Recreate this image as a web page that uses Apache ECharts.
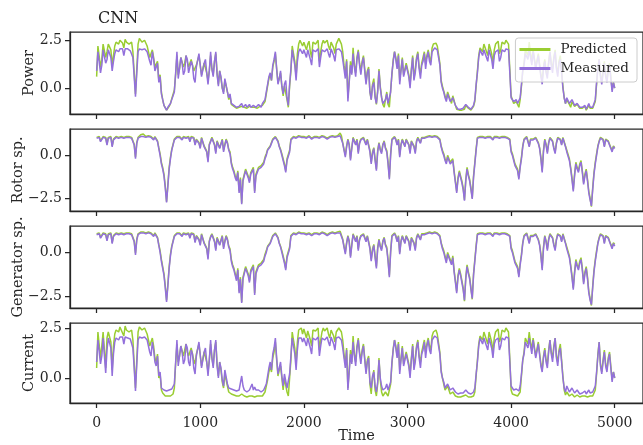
<!DOCTYPE html>
<html><head><meta charset="utf-8">
<script src="https://cdn.jsdelivr.net/npm/echarts@6/dist/echarts.min.js"></script>
<style>html,body{margin:0;padding:0;background:#fff}#c{width:643px;height:445px}</style>
</head><body><div id="c"></div>
<script>
const TIME_STEP = 12.5;
const X_TICKS = [0, 1000, 2000, 3000, 4000, 5000];
const LEGEND = ['Predicted', 'Measured'];
const TITLE = 'CNN';
const X_NAME = 'Time';
const PANEL_NAMES = ['Power', 'Rotor sp.', 'Generator sp.', 'Current'];
const Y_TICKS = [[0, 2.5], [-2.5, 0], [-2.5, 0], [0, 2.5]];

const powerMeasured = [
0.9,1.9,2.0,0.8,1.2,2.0,2.0,1.3, 1.5,2.0,2.0,1.6,0.9,1.4,1.8,2.0, 2.0,1.9,2.05,2.0,2.05,1.7,2.05,2.0, 2.05,2.0,1.95,2.05,1.6,0.6,-0.45,0.8,
1.9,2.05,2.05,2.0,2.0,2.05,2.05,1.9, 1.9,1.4,1.2,1.9,1.5,0.9,0.8,1.3, 0.3,0.6,-0.3,-0.6,-0.9,-1.0,-1.15,-1.0, -0.9,-0.8,-0.6,-0.5,-0.2,0.8,1.9,0.5,
0.6,1.6,1.3,0.7,0.9,1.7,1.5,0.8, 0.7,1.4,1.2,0.5,0.3,1.1,1.0,1.8, 1.9,0.6,0.5,1.3,1.5,0.8,0.2,0.9, 1.9,1.0,0.6,1.4,1.9,0.7,0.1,0.9,
0.6,0.0,-0.3,0.5,0.4,-0.2,-0.5,-0.3, -0.8,-0.7,-0.9,-1.0,-1.0,-0.9,-0.95,-1.0, -0.8,-1.0,-0.95,-0.85,-1.0,-0.95,-0.85,-1.0, -1.0,-0.9,-0.9,-1.0,-1.0,-0.85,-0.9,-1.0,
-0.8,-0.7,-0.6,-0.2,0.2,0.6,0.8,0.4, 1.2,1.5,1.9,1.0,0.2,0.5,0.9,0.1, -0.3,0.2,0.4,-0.5,-0.9,0.2,1.0,2.0, 2.0,1.2,0.4,1.4,1.9,2.05,2.0,1.8,
2.0,2.05,1.6,2.0,2.0,1.5,1.2,2.0, 2.0,1.9,1.8,2.05,1.1,1.6,2.0,2.05, 1.9,2.0,2.05,1.8,1.6,2.05,2.0,1.7, 1.4,2.0,2.0,2.05,2.05,1.9,1.5,1.0,
0.5,1.4,-0.7,0.3,1.2,0.7,1.8,1.1, 0.6,1.5,1.9,1.2,0.7,1.3,1.6,0.9, 0.2,0.8,1.0,-0.2,-0.6,0.1,0.3,-0.5, -0.8,-0.2,0.9,0.0,-0.5,-0.8,-0.9,-0.6,
-0.3,-0.8,-0.9,-0.2,0.8,1.4,1.9,1.5, 1.0,1.7,0.2,0.9,1.5,0.6,0.5,1.2, 1.3,0.6,0.0,0.9,1.6,0.4,0.8,1.5, 1.8,1.0,0.5,1.2,1.4,1.8,1.0,1.6,
1.9,1.4,1.2,1.9,2.0,2.1,2.05,2.0, 1.9,1.2,0.3,0.0,-0.2,-0.5,-0.7,-0.3, -0.4,-0.7,-0.8,-0.5,-0.6,-0.9,-1.0,-1.1, -1.1,-1.1,-1.1,-1.05,-1.05,-0.85,-0.8,-1.0,
-1.1,-1.1,-1.1,-0.9,-0.6,0.2,0.8,1.6, 2.0,1.9,1.7,2.0,2.0,1.6,1.4,2.0, 2.0,1.5,1.0,1.7,1.9,2.0,2.0,1.4, 1.6,2.0,2.0,1.9,2.05,2.0,2.0,0.8,
-0.5,-0.4,-0.7,-0.6,-0.6,-0.8,-0.9,-0.5, 0.2,0.9,1.2,1.8,1.9,1.5,2.0,1.6, 1.2,1.9,1.8,1.0,0.9,1.7,1.6,0.6, 0.2,1.0,1.4,0.8,0.5,1.3,1.9,1.2,
0.8,1.5,1.9,1.0,0.6,1.3,1.5,0.8, 0.0,-0.5,-0.8,-0.5,-0.4,-0.8,-0.9,-0.6, -0.6,-0.9,-1.0,-0.8,-0.7,-1.0,-1.1,-1.0, -1.05,-0.9,-1.1,-1.05,-0.8,-1.0,-1.1,-1.0,
-1.0,-0.6,0.3,1.0,1.5,0.6,0.2,0.8, 1.3,0.6,0.3,0.9,1.2,0.5,-0.2,0.3, 0.0];
const powerPredicted = [
0.6,2.2,2.3,1.1,1.5,2.3,2.2,1.6, 1.9,2.3,2.3,2.0,1.2,1.7,2.2,2.4, 2.4,2.3,2.5,2.4,2.35,2.1,2.55,2.4, 2.4,2.3,2.3,2.4,1.9,0.8,-0.3,1.0,
2.3,2.6,2.6,2.4,2.45,2.5,2.4,2.2, 2.1,1.6,1.5,2.0,1.6,1.1,1.0,1.4, 0.4,0.7,-0.2,-0.6,-0.9,-1.0,-1.15,-1.05, -0.95,-0.8,-0.55,-0.45,-0.1,0.7,1.7,0.7,
1.0,1.6,1.5,1.1,1.3,1.7,1.4,1.1, 1.1,1.5,1.5,0.9,0.8,1.2,1.2,1.7, 1.8,0.7,0.6,1.3,1.4,0.8,0.4,0.9, 1.7,1.0,0.7,1.4,1.8,0.8,0.2,0.9,
0.5,0.0,-0.2,0.4,0.3,-0.2,-0.6,-0.4, -0.85,-0.8,-0.95,-1.05,-1.05,-1.0,-1.0,-1.05, -0.95,-1.05,-1.0,-0.95,-1.05,-1.0,-0.95,-1.05, -1.0,-0.95,-1.0,-1.05,-1.05,-0.95,-0.95,-1.05,
-0.9,-0.8,-0.7,-0.3,0.1,0.5,0.7,0.4, 1.1,1.4,1.8,1.0,0.3,0.5,0.8,0.1, -0.4,0.1,0.2,-0.6,-1.0,0.1,0.9,2.2, 2.2,1.4,0.6,1.8,2.3,2.5,2.5,2.2,
2.4,2.5,2.0,2.3,2.45,1.9,1.6,2.4, 2.4,2.3,2.2,2.5,1.4,1.9,2.3,2.5, 2.35,2.4,2.5,2.2,2.0,2.4,2.3,2.1, 1.8,2.3,2.4,2.6,2.7,2.3,1.9,1.2,
0.7,1.5,-0.5,0.4,1.4,0.8,2.1,1.2, 0.8,1.6,2.0,1.3,0.9,1.4,1.7,1.0, 0.3,0.9,1.1,-0.2,-0.6,0.2,0.5,-0.4, -0.85,-0.1,1.0,0.1,-0.45,-0.85,-1.0,-0.6,
-0.2,-0.85,-1.0,-0.1,0.7,1.5,1.9,1.6, 1.1,1.8,0.4,1.0,1.6,0.7,0.7,1.3, 1.4,0.7,0.2,1.0,1.7,0.5,1.0,1.6, 1.9,1.1,0.8,1.3,1.6,1.9,1.3,1.7,
2.0,1.6,1.4,2.1,2.3,2.35,2.35,2.2, 2.1,1.3,0.4,0.1,0.0,-0.4,-0.6,-0.2, -0.3,-0.6,-0.8,-0.4,-0.5,-0.9,-1.1,-1.15, -1.15,-1.15,-1.15,-1.1,-1.1,-0.9,-0.85,-1.05,
-1.15,-1.15,-1.15,-0.95,-0.7,0.1,0.9,1.7, 2.1,2.1,1.9,2.3,2.3,1.9,1.7,2.3, 2.35,1.8,1.3,2.0,2.3,2.4,2.45,1.8, 2.0,2.4,2.4,2.3,2.5,2.4,2.3,1.0,
-0.4,-0.3,-0.8,-0.7,-0.7,-0.85,-1.0,-0.6, 0.1,0.9,1.3,2.0,2.1,1.7,2.4,1.8, 1.4,2.0,2.0,1.1,1.1,1.8,1.7,0.7, 0.4,1.1,1.5,0.9,0.7,1.4,1.9,1.3,
1.0,1.6,2.0,1.1,0.8,1.4,1.7,0.9, 0.1,-0.5,-0.8,-0.6,-0.5,-0.85,-1.0,-0.7, -0.7,-0.95,-1.05,-0.85,-0.8,-1.05,-1.15,-1.05, -1.1,-0.95,-1.15,-1.1,-0.9,-1.05,-1.15,-1.05,
-1.1,-0.7,0.2,1.1,1.5,0.7,0.3,0.9, 1.4,0.7,0.4,1.0,1.3,0.6,-0.1,0.3, 0.0];

const rotorMeasured = [
1.0,1.05,1.05,0.8,0.7,1.05,1.05,1.0, 0.6,1.0,1.05,1.05,0.5,0.9,1.0,1.05, 1.05,1.0,1.05,1.05,1.05,1.0,1.0,1.05, 1.05,1.05,1.05,1.0,0.9,0.6,-0.2,0.7,
1.0,1.1,1.1,1.05,1.1,1.1,1.05,1.1, 1.1,1.05,1.05,1.1,0.9,1.05,1.0,0.8, 0.4,0.0,-0.5,-0.8,-1.2,-1.9,-2.75,-1.8, -0.8,-0.2,0.3,0.6,0.9,1.0,1.05,1.05,
1.05,1.0,0.9,1.05,1.05,1.0,1.0,1.05, 0.8,1.05,1.05,1.0,0.6,0.9,1.0,0.7, 0.4,1.0,0.9,0.5,0.6,0.2,-0.4,0.6, 0.8,1.0,1.0,0.6,0.1,0.8,0.9,0.4,
0.5,0.9,0.2,0.6,0.9,0.7,0.3,0.1, -0.5,-0.8,-1.0,-1.3,-1.5,-1.0,-2.2,-1.4, -2.85,-1.5,-1.2,-0.9,-1.0,-1.3,-1.6,-1.1, -1.0,-0.8,-2.2,-1.2,-1.0,-0.8,-0.9,-0.7,
-0.6,-0.5,-0.2,0.0,0.3,0.4,0.5,0.7, 0.9,1.0,1.05,1.0,0.8,0.5,0.3,0.0, -0.3,-0.6,-1.0,-0.3,-0.4,0.2,0.9,1.0, 1.05,1.05,1.0,1.05,1.1,1.05,1.05,1.1,
1.05,1.05,1.0,1.05,1.1,1.05,0.95,1.05, 1.05,1.0,1.05,1.05,1.0,1.05,1.1,1.05, 1.05,1.05,0.95,1.05,1.05,1.0,1.1,1.05, 1.05,1.1,1.1,1.05,1.15,1.1,0.7,0.3,
-0.1,0.5,0.9,0.6,-0.3,0.4,1.0,0.8, 0.6,0.9,0.1,0.7,0.9,1.0,1.0,0.8, 0.6,0.9,0.9,0.2,-0.5,0.1,0.4,-0.3, -0.9,0.2,0.7,0.3,0.1,0.6,0.8,0.4,
0.2,-0.5,-1.4,0.0,0.9,1.0,1.05,0.9, 0.6,0.9,-0.1,0.6,0.9,0.7,0.5,0.9, 1.0,0.6,0.1,0.8,0.9,0.5,0.1,0.8, 1.0,0.9,0.7,1.0,1.05,1.0,0.9,1.05,
1.05,1.1,1.1,1.05,1.05,1.1,1.1,1.05, 1.05,0.9,0.5,0.2,0.0,-0.3,-0.5,-0.1, -0.2,-0.5,-0.6,-0.3,-1.0,-1.6,-2.2,-1.4, -1.0,-1.3,-1.6,-2.0,-2.65,-1.5,-0.8,-1.2,
-1.5,-2.0,-2.55,-1.3,-0.5,0.3,1.0,1.05, 1.05,1.05,1.05,1.0,1.0,1.05,1.05,1.05, 1.05,1.0,0.9,1.05,1.05,1.05,1.05,1.0, 1.0,1.05,1.05,1.05,1.05,1.0,1.0,0.9,
0.2,0.0,-0.3,-0.6,-0.5,-0.9,-1.4,-0.7, -0.2,0.5,0.9,1.0,1.05,0.8,0.5,0.9, 1.0,0.9,0.8,1.0,1.0,0.7,0.4,-0.2, -1.0,0.2,0.9,0.6,0.1,0.7,1.0,0.9,
0.8,0.4,0.1,0.7,1.0,1.0,0.9,0.6, 1.0,0.9,0.5,0.2,0.1,-0.3,-0.8,-1.4, -2.1,-1.2,-0.5,-0.8,-1.0,-0.6,-0.4,-1.0, -1.7,-1.2,-0.9,-1.5,-2.2,-2.6,-2.95,-2.0,
-1.1,-0.5,0.0,0.5,0.8,1.0,1.05,0.9, 0.5,0.9,1.0,0.8,0.7,0.4,0.2,0.5, 0.4];
const rotorPredicted = [
1.05,1.1,1.1,0.85,0.75,1.1,1.1,1.05, 0.65,1.05,1.1,1.1,0.55,0.95,1.05,1.1, 1.1,1.05,1.1,1.1,1.1,1.05,1.05,1.1, 1.1,1.1,1.1,1.05,0.95,0.65,-0.1,0.75,
1.05,1.15,1.2,1.15,1.25,1.15,1.1,1.15, 1.15,1.1,1.1,1.15,0.95,1.1,1.05,0.85, 0.45,0.1,-0.4,-0.7,-1.1,-1.8,-2.7,-1.7, -0.7,-0.1,0.35,0.65,0.95,1.05,1.1,1.1,
1.1,1.05,0.95,1.1,1.1,1.05,1.05,1.1, 0.85,1.1,1.1,1.05,0.65,0.95,1.05,0.75, 0.45,1.05,0.95,0.55,0.65,0.25,-0.3,0.65, 0.85,1.05,1.05,0.65,0.2,0.85,0.95,0.45,
0.55,0.95,0.3,0.65,0.95,0.75,0.35,0.2, -0.4,-0.7,-0.9,-1.2,-1.4,-0.9,-2.1,-1.3, -2.8,-1.4,-1.1,-0.8,-0.9,-1.2,-1.5,-1.0, -0.9,-0.7,-2.1,-1.1,-0.9,-0.7,-0.8,-0.6,
-0.5,-0.4,-0.1,0.1,0.35,0.45,0.55,0.75, 0.95,1.05,1.1,1.05,0.85,0.55,0.35,0.1, -0.2,-0.5,-0.9,-0.2,-0.3,0.3,0.95,1.05, 1.1,1.1,1.05,1.1,1.15,1.1,1.1,1.15,
1.1,1.1,1.05,1.1,1.15,1.1,1.0,1.1, 1.1,1.05,1.1,1.1,1.05,1.1,1.15,1.1, 1.1,1.1,1.0,1.1,1.1,1.05,1.15,1.1, 1.1,1.15,1.15,1.1,1.3,1.15,0.75,0.35,
0.0,0.55,0.95,0.65,-0.2,0.45,1.05,0.85, 0.65,0.95,0.2,0.75,0.95,1.05,1.05,0.85, 0.65,0.95,0.95,0.3,-0.4,0.2,0.45,-0.2, -0.8,0.3,0.75,0.35,0.2,0.65,0.85,0.45,
0.3,-0.4,-1.3,0.1,0.95,1.05,1.1,0.95, 0.65,0.95,0.0,0.65,0.95,0.75,0.55,0.95, 1.05,0.65,0.2,0.85,0.95,0.55,0.2,0.85, 1.05,0.95,0.75,1.05,1.1,1.05,0.95,1.1,
1.1,1.15,1.15,1.1,1.1,1.15,1.15,1.1, 1.1,0.95,0.55,0.3,0.1,-0.2,-0.4,0.0, -0.1,-0.4,-0.5,-0.2,-0.9,-1.5,-2.1,-1.3, -0.9,-1.2,-1.5,-1.9,-2.6,-1.4,-0.7,-1.1,
-1.4,-1.9,-2.5,-1.2,-0.4,0.4,1.05,1.1, 1.1,1.1,1.1,1.05,1.05,1.1,1.1,1.1, 1.1,1.05,0.95,1.1,1.1,1.1,1.1,1.05, 1.05,1.1,1.1,1.1,1.1,1.05,1.05,0.95,
0.3,0.1,-0.2,-0.5,-0.4,-0.8,-1.3,-0.6, -0.1,0.55,0.95,1.05,1.1,0.85,0.55,0.95, 1.05,0.95,0.85,1.05,1.05,0.75,0.45,-0.1, -0.9,0.3,0.95,0.65,0.2,0.75,1.05,0.95,
0.85,0.45,0.2,0.75,1.05,1.05,0.95,0.65, 1.05,0.95,0.55,0.3,0.2,-0.2,-0.7,-1.3, -2.0,-1.1,-0.4,-0.7,-0.9,-0.5,-0.3,-0.9, -1.6,-1.1,-0.8,-1.4,-2.1,-2.5,-3.0,-1.9,
-1.0,-0.4,0.1,0.55,0.85,1.05,1.1,0.95, 0.55,0.95,1.05,0.85,0.75,0.45,0.3,0.55, 0.45];

const generatorMeasured = [
1.0,1.05,1.05,0.8,0.75,1.05,1.05,1.0, 0.65,1.0,1.05,1.05,0.5,0.9,1.0,1.05, 1.05,1.0,1.05,1.05,1.05,1.0,1.0,1.05, 1.05,1.05,1.05,1.0,0.9,0.6,-0.15,0.7,
1.0,1.1,1.1,1.05,1.1,1.1,1.05,1.1, 1.1,1.05,1.05,1.1,0.9,1.05,1.0,0.8, 0.4,0.0,-0.5,-0.9,-1.3,-2.0,-2.8,-1.9, -0.9,-0.2,0.3,0.6,0.9,1.0,1.05,1.05,
1.05,1.0,0.9,1.05,1.05,1.0,1.0,1.05, 0.8,1.05,1.05,1.0,0.55,0.9,1.0,0.7, 0.4,1.0,0.9,0.5,0.6,0.2,-0.4,0.6, 0.85,1.0,1.0,0.6,0.1,0.8,0.9,0.4,
0.5,0.9,0.2,0.6,0.9,0.7,0.3,0.1, -0.5,-0.8,-1.0,-1.3,-1.6,-1.0,-2.3,-1.5, -2.85,-1.5,-1.2,-0.9,-1.0,-1.3,-1.7,-1.1, -1.0,-0.8,-2.4,-1.2,-1.0,-0.8,-0.9,-0.7,
-0.6,-0.5,-0.2,0.0,0.3,0.4,0.5,0.7, 0.9,1.0,1.05,1.0,0.8,0.5,0.3,0.0, -0.3,-0.6,-1.0,-0.3,-0.4,0.2,0.9,1.0, 1.05,1.05,1.0,1.05,1.1,1.05,1.05,1.1,
1.05,1.05,1.0,1.05,1.05,1.05,0.95,1.05, 1.05,1.0,1.05,1.05,1.0,1.05,1.1,1.05, 1.05,1.05,0.95,1.05,1.05,1.0,1.1,1.05, 1.05,1.1,1.1,1.05,1.1,1.1,0.7,0.3,
-0.1,0.5,0.9,0.6,-0.3,0.4,1.0,0.8, 0.6,0.9,0.1,0.7,0.9,1.0,1.0,0.8, 0.6,0.9,0.9,0.2,-0.5,0.1,0.4,-0.3, -0.9,0.2,0.7,0.3,0.1,0.6,0.8,0.4,
0.2,-0.5,-1.4,0.0,0.9,1.0,1.05,0.9, 0.6,0.9,-0.1,0.6,0.9,0.7,0.5,0.9, 1.0,0.6,0.1,0.8,0.9,0.5,0.1,0.8, 1.0,0.9,0.7,1.0,1.05,1.0,0.9,1.05,
1.05,1.1,1.1,1.05,1.05,1.1,1.1,1.05, 1.05,0.9,0.5,0.2,0.0,-0.3,-0.6,-0.1, -0.2,-0.5,-0.7,-0.3,-1.1,-1.7,-2.3,-1.4, -1.0,-1.3,-1.7,-2.1,-2.7,-1.5,-0.8,-1.2,
-1.5,-2.1,-2.6,-1.3,-0.5,0.3,1.0,1.05, 1.05,1.05,1.05,1.0,1.0,1.05,1.05,1.05, 1.05,1.0,0.9,1.05,1.05,1.05,1.05,1.0, 1.0,1.05,1.05,1.05,1.05,1.0,1.0,0.9,
0.2,0.0,-0.3,-0.6,-0.5,-0.9,-1.4,-0.7, -0.2,0.5,0.9,1.0,1.05,0.8,0.5,0.9, 1.0,0.9,0.8,1.0,1.0,0.7,0.4,-0.2, -1.0,0.2,0.9,0.6,0.1,0.7,1.0,0.9,
0.8,0.4,0.1,0.7,1.0,1.0,0.9,0.6, 1.0,0.9,0.5,0.2,0.1,-0.3,-0.8,-1.4, -2.1,-1.2,-0.5,-0.8,-1.0,-0.6,-0.4,-1.0, -1.8,-1.2,-0.9,-1.5,-2.3,-2.7,-2.95,-2.0,
-1.1,-0.5,0.0,0.5,0.8,1.0,1.05,0.9, 0.5,0.9,1.0,0.8,0.7,0.4,0.2,0.5, 0.35];
const generatorPredicted = [
1.05,1.1,1.1,0.85,0.8,1.1,1.1,1.05, 0.7,1.05,1.1,1.1,0.55,0.95,1.05,1.1, 1.12,1.05,1.1,1.1,1.1,1.05,1.05,1.1, 1.12,1.1,1.1,1.05,0.95,0.65,-0.05,0.75,
1.05,1.15,1.15,1.1,1.15,1.15,1.1,1.15, 1.15,1.1,1.1,1.15,0.95,1.1,1.05,0.85, 0.45,0.1,-0.4,-0.8,-1.2,-1.9,-2.7,-1.8, -0.8,-0.1,0.35,0.65,0.95,1.05,1.1,1.1,
1.1,1.05,0.95,1.1,1.1,1.05,1.05,1.1, 0.85,1.1,1.1,1.05,0.6,0.95,1.05,0.75, 0.45,1.05,0.95,0.55,0.65,0.25,-0.3,0.65, 0.9,1.05,1.05,0.65,0.2,0.85,0.95,0.45,
0.55,0.95,0.3,0.65,0.95,0.75,0.35,0.2, -0.4,-0.7,-0.9,-1.2,-1.5,-0.9,-2.2,-1.4, -2.8,-1.4,-1.1,-0.8,-0.9,-1.2,-1.6,-1.0, -0.9,-0.7,-2.3,-1.1,-0.9,-0.7,-0.8,-0.6,
-0.5,-0.4,-0.1,0.1,0.35,0.45,0.55,0.75, 0.95,1.05,1.1,1.05,0.85,0.55,0.35,0.1, -0.2,-0.5,-0.9,-0.2,-0.3,0.3,0.95,1.05, 1.1,1.1,1.05,1.1,1.15,1.1,1.1,1.15,
1.1,1.1,1.05,1.1,1.1,1.1,1.0,1.1, 1.1,1.05,1.1,1.1,1.05,1.1,1.15,1.1, 1.1,1.1,1.0,1.1,1.1,1.05,1.15,1.1, 1.1,1.15,1.15,1.1,1.2,1.15,0.75,0.35,
0.0,0.55,0.95,0.65,-0.2,0.45,1.05,0.85, 0.65,0.95,0.2,0.75,0.95,1.05,1.05,0.85, 0.65,0.95,0.95,0.3,-0.4,0.2,0.45,-0.2, -0.8,0.3,0.75,0.35,0.2,0.65,0.85,0.45,
0.3,-0.4,-1.3,0.1,0.95,1.05,1.1,0.95, 0.65,0.95,0.0,0.65,0.95,0.75,0.55,0.95, 1.05,0.65,0.2,0.85,0.95,0.55,0.2,0.85, 1.05,0.95,0.75,1.05,1.1,1.05,0.95,1.1,
1.1,1.15,1.15,1.1,1.1,1.15,1.15,1.1, 1.1,0.95,0.55,0.3,0.1,-0.2,-0.5,0.0, -0.1,-0.4,-0.6,-0.2,-1.0,-1.6,-2.2,-1.3, -0.9,-1.2,-1.6,-2.0,-2.75,-1.4,-0.7,-1.1,
-1.4,-2.0,-2.65,-1.2,-0.4,0.4,1.05,1.1, 1.1,1.1,1.1,1.05,1.05,1.1,1.1,1.1, 1.1,1.05,0.95,1.1,1.1,1.1,1.1,1.05, 1.05,1.1,1.1,1.1,1.1,1.05,1.05,0.95,
0.3,0.1,-0.2,-0.5,-0.4,-0.8,-1.3,-0.6, -0.1,0.55,0.95,1.05,1.1,0.85,0.55,0.95, 1.05,0.95,0.85,1.05,1.05,0.75,0.45,-0.1, -0.9,0.3,0.95,0.65,0.2,0.75,1.05,0.95,
0.85,0.45,0.2,0.75,1.05,1.05,0.95,0.65, 1.05,0.95,0.55,0.3,0.2,-0.2,-0.7,-1.3, -2.0,-1.1,-0.4,-0.7,-0.9,-0.5,-0.3,-0.9, -1.7,-1.1,-0.8,-1.4,-2.2,-2.6,-3.0,-1.9,
-1.0,-0.4,0.1,0.55,0.85,1.05,1.1,0.95, 0.55,0.95,1.05,0.85,0.75,0.45,0.3,0.55, 0.45];

const currentMeasured = [
0.8,1.9,2.0,0.7,1.1,2.0,2.0,0.25, 1.4,2.0,2.0,1.5,0.1,1.2,1.8,2.0, 2.0,1.9,2.05,2.0,2.05,1.7,2.05,2.0, 2.0,2.0,1.95,2.05,1.5,0.5,-0.65,0.7,
1.9,2.05,2.05,2.0,2.0,2.05,2.05,1.9, 1.8,1.3,1.1,1.8,1.4,0.8,0.6,1.1, 0.1,0.3,-0.5,-0.6,-0.6,-0.65,-0.65,-0.6, -0.6,-0.55,-0.55,-0.5,-0.3,0.8,1.9,0.6,
0.7,1.6,1.3,0.7,0.9,1.7,1.5,0.8, 0.6,1.4,1.2,0.5,0.2,1.1,1.0,1.8, 1.9,0.5,0.4,1.3,1.5,0.8,0.1,0.9, 1.9,1.0,0.5,1.4,1.9,0.6,0.0,0.8,
0.5,-0.1,-0.4,0.4,0.3,-0.3,-0.5,-0.4, -0.55,-0.6,-0.6,-0.65,-0.65,-0.6,-0.6,-0.55, 0.1,-0.4,-0.6,-0.65,-0.7,-0.65,-0.6,-0.65, -0.3,-0.6,-0.45,-0.6,-0.7,-0.6,-0.65,-0.7,
-0.6,-0.6,-0.5,-0.3,0.1,0.5,0.8,0.4, 1.2,1.5,2.0,1.0,0.2,0.5,0.8,0.1, -0.4,0.2,0.3,-0.5,-0.6,0.2,1.1,2.0, 2.0,1.2,0.4,1.4,2.0,2.05,2.0,1.8,
2.0,2.05,1.6,2.0,2.0,1.5,1.2,2.0, 2.0,1.9,1.8,2.05,1.1,1.6,2.0,2.05, 1.9,2.0,2.05,1.8,1.6,2.05,2.0,1.7, 1.4,2.0,2.0,2.05,2.05,1.9,1.5,1.0,
0.5,1.4,-0.6,0.3,1.2,0.7,1.8,1.1, 0.6,1.5,1.9,1.2,0.7,1.3,1.6,0.9, 0.2,0.8,1.0,-0.2,-0.5,0.1,0.3,-0.4, -0.7,-0.2,0.9,0.0,-0.4,-0.6,-0.7,-0.5,
-0.3,-0.6,-0.7,-0.2,0.8,1.4,1.9,1.5, 1.0,1.7,0.2,0.9,1.5,0.6,0.5,1.2, 1.3,0.6,0.0,0.9,1.6,0.4,0.8,1.5, 1.8,1.0,0.5,1.2,1.4,1.8,1.0,1.6,
1.9,1.4,1.2,1.9,2.0,2.1,2.05,2.0, 1.9,1.2,0.3,0.0,-0.2,-0.5,-0.6,-0.3, -0.4,-0.6,-0.7,-0.5,-0.55,-0.7,-0.75,-0.8, -0.8,-0.75,-0.8,-0.75,-0.75,-0.6,-0.6,-0.75,
-0.8,-0.8,-0.8,-0.7,-0.5,0.2,0.8,1.6, 2.0,1.9,1.7,2.0,2.0,1.6,1.4,2.0, 2.0,1.5,1.0,1.7,1.9,2.0,2.0,1.4, 1.6,2.0,2.0,1.9,2.05,2.0,2.0,0.8,
-0.4,-0.3,-0.6,-0.5,-0.55,-0.6,-0.65,-0.4, 0.2,0.9,1.2,1.8,1.9,1.5,2.0,1.6, 1.2,1.9,1.8,1.0,0.9,1.7,1.6,0.6, 0.3,1.0,1.4,0.8,0.5,1.3,1.9,1.2,
0.8,1.5,2.0,1.0,0.6,1.3,1.5,0.8, 0.0,-0.5,-0.7,-0.4,-0.4,-0.7,-0.75,-0.5, -0.5,-0.75,-0.8,-0.6,-0.6,-0.8,-0.8,-0.75, -0.8,-0.65,-0.8,-0.75,-0.6,-0.75,-0.8,-0.7,
-0.7,-0.4,0.3,1.1,1.8,0.6,0.2,0.8, 1.3,0.6,0.3,0.9,1.2,0.5,-0.2,0.3, 0.0];
const currentPredicted = [
0.5,2.3,2.4,1.0,1.6,2.3,2.3,0.5, 2.0,2.3,2.3,1.8,0.4,1.6,2.2,2.4, 2.45,2.3,2.55,2.4,2.4,2.1,2.6,2.4, 2.4,2.3,2.35,2.4,1.9,0.7,-0.5,0.9,
2.3,2.55,2.55,2.4,2.5,2.5,2.4,2.2, 2.1,1.6,1.5,2.0,1.6,1.0,0.8,1.2, 0.0,0.2,-0.6,-0.75,-0.85,-0.9,-0.9,-0.9, -0.9,-0.9,-0.85,-0.8,-0.5,0.7,1.7,0.8,
1.1,1.6,1.5,1.1,1.4,1.7,1.3,1.1, 1.1,1.5,1.5,0.9,0.7,1.2,1.2,1.7, 1.8,0.6,0.5,1.3,1.4,0.8,0.3,0.9, 1.7,1.0,0.6,1.4,1.8,0.7,0.1,0.8,
0.4,-0.2,-0.5,0.2,0.1,-0.4,-0.7,-0.6, -0.8,-0.85,-0.85,-0.9,-0.9,-0.9,-0.9,-0.85, -0.8,-0.9,-0.9,-0.95,-0.95,-0.9,-0.9,-0.95, -0.9,-0.9,-0.95,-0.9,-0.9,-0.95,-0.9,-0.9,
-0.9,-0.85,-0.7,-0.4,-0.1,0.3,0.6,0.3, 1.0,1.3,1.8,0.9,0.1,0.4,0.6,0.0, -0.6,0.0,0.0,-0.7,-0.9,0.0,0.9,2.3, 2.3,1.5,0.7,1.8,2.4,2.5,2.5,2.2,
2.45,2.5,2.0,2.35,2.45,1.9,1.6,2.4, 2.4,2.35,2.25,2.5,1.4,1.9,2.3,2.5, 2.35,2.4,2.5,2.2,2.0,2.4,2.35,2.1, 1.8,2.3,2.4,2.5,2.6,2.3,1.9,1.2,
0.7,1.5,-0.5,0.4,1.4,0.8,2.1,1.2, 0.8,1.6,2.0,1.3,0.9,1.4,1.7,1.0, 0.3,0.9,1.1,-0.3,-0.8,0.0,0.4,-0.6, -0.9,-0.3,1.0,-0.1,-0.7,-0.9,-0.9,-0.7,
-0.6,-0.9,-0.9,-0.3,0.7,1.5,1.9,1.6, 1.1,1.8,0.4,1.0,1.6,0.7,0.7,1.3, 1.4,0.7,0.2,1.0,1.7,0.5,1.0,1.6, 1.9,1.1,0.8,1.3,1.6,1.9,1.3,1.7,
2.0,1.6,1.4,2.1,2.3,2.4,2.4,2.2, 2.1,1.3,0.4,0.0,-0.1,-0.6,-0.7,-0.4, -0.5,-0.8,-0.9,-0.7,-0.75,-0.9,-0.95,-0.95, -0.95,-0.95,-0.95,-0.9,-0.9,-0.85,-0.85,-0.95,
-0.95,-0.95,-0.95,-0.9,-0.7,0.1,0.9,1.7, 2.1,2.1,1.9,2.3,2.3,1.9,1.7,2.3, 2.35,1.8,1.3,2.0,2.3,2.4,2.45,1.8, 2.0,2.4,2.4,2.3,2.5,2.45,2.3,1.0,
-0.6,-0.8,-0.9,-0.85,-0.85,-0.9,-0.9,-0.7, 0.1,0.9,1.3,2.0,2.1,1.7,2.3,1.8, 1.4,2.0,2.0,1.1,1.1,1.8,1.7,0.7, 0.4,1.1,1.5,0.9,0.7,1.4,1.9,1.3,
1.0,1.6,2.0,1.1,0.8,1.4,1.7,0.9, 0.1,-0.6,-0.85,-0.7,-0.7,-0.9,-0.95,-0.8, -0.8,-0.95,-0.95,-0.85,-0.85,-0.95,-0.95,-0.9, -0.95,-0.9,-0.95,-0.95,-0.85,-0.9,-0.95,-0.9,
-0.9,-0.6,0.2,1.2,1.8,0.7,0.3,0.9, 1.4,0.7,0.4,1.0,1.3,0.6,-0.1,0.3, 0.0];

const PANELS = [
  {name: PANEL_NAMES[0], pred: powerPredicted, meas: powerMeasured, min: -1.35, max: 2.93, ticks: Y_TICKS[0]},
  {name: PANEL_NAMES[1], pred: rotorPredicted, meas: rotorMeasured, min: -3.25, max: 1.54, ticks: Y_TICKS[1]},
  {name: PANEL_NAMES[2], pred: generatorPredicted, meas: generatorMeasured, min: -3.14, max: 1.49, ticks: Y_TICKS[2]},
  {name: PANEL_NAMES[3], pred: currentPredicted, meas: currentMeasured, min: -1.25, max: 2.75, ticks: Y_TICKS[3]}
];

const times = powerMeasured.map((_, i) => i * TIME_STEP);
const INK = '#262626';
const FONT = 'DejaVu Serif';
const GREEN = '#9acd32';
const PURPLE = '#9370db';
const tops = [32, 129, 226, 323];
const H = 82;

const grid = [], xAxis = [], yAxis = [], series = [];
const fmt = v => (v < 0 ? '\u2212' : '') + Math.abs(v).toFixed(1);

PANELS.forEach((p, i) => {
  const last = i === PANELS.length - 1;
  grid.push({left: 70, width: 575, top: tops[i], height: H, show: true, borderColor: INK, borderWidth: 1.25, backgroundColor: 'transparent'});
  xAxis.push({
    type: 'value', gridIndex: i, min: -257, max: 5273,
    axisLine: {show: true, onZero: false, lineStyle: {color: INK, width: 1.25}},
    axisTick: {show: true, length: 5, customValues: X_TICKS, lineStyle: {color: INK, width: 1.25}},
    axisLabel: {show: last, customValues: X_TICKS, formatter: v => String(v), fontFamily: FONT, fontSize: 14, color: INK, margin: 13},
    splitLine: {show: false},
    name: last ? X_NAME : '', nameLocation: 'middle', nameGap: 26, nameMoveOverlap: false,
    nameTextStyle: {fontFamily: FONT, fontSize: 14.5, color: INK}
  });
  yAxis.push({
    type: 'value', gridIndex: i, min: p.min, max: p.max,
    axisLine: {show: true, onZero: false, lineStyle: {color: INK, width: 1.25}},
    axisTick: {show: true, length: 5, customValues: p.ticks, lineStyle: {color: INK, width: 1.25}},
    axisLabel: {show: true, customValues: p.ticks, formatter: fmt, fontFamily: FONT, fontSize: 14, color: INK, margin: 8},
    splitLine: {show: false},
    name: p.name, nameLocation: 'middle', nameRotate: 90, nameMoveOverlap: false,
    nameGap: (p.ticks[0] < 0) ? 44 : 33,
    nameTextStyle: {fontFamily: FONT, fontSize: 14.5, color: INK}
  });
  series.push({
    name: LEGEND[0], type: 'line', xAxisIndex: i, yAxisIndex: i, showSymbol: false, symbol: 'none',
    data: times.map((t, k) => [t, p.pred[k]]), lineStyle: {color: GREEN, width: 1.5}, itemStyle: {color: GREEN},
    z: 2, animation: false
  });
  series.push({
    name: LEGEND[1], type: 'line', xAxisIndex: i, yAxisIndex: i, showSymbol: false, symbol: 'none',
    data: times.map((t, k) => [t, p.meas[k]]), lineStyle: {color: PURPLE, width: 1.5}, itemStyle: {color: PURPLE},
    z: 3, animation: false
  });
});

const chart = echarts.init(document.getElementById('c'), null, {renderer: 'canvas'});
chart.setOption({
  backgroundColor: '#fff',
  animation: false,
  title: {text: TITLE, left: 93, top: 6, textStyle: {fontFamily: FONT, fontSize: 16, fontWeight: 'normal', color: INK}},
  legend: {
    data: LEGEND, orient: 'vertical', right: 6, top: 38, icon: 'rect', itemWidth: 31, itemHeight: 3, itemGap: 4,
    backgroundColor: 'rgba(255,255,255,0.8)', borderColor: '#cccccc', borderWidth: 1, borderRadius: 3,
    padding: [4, 8, 6, 4],
    textStyle: {fontFamily: FONT, fontSize: 13.5, color: INK, lineHeight: 15, padding: [0, 0, 0, 5]}
  },
  grid, xAxis, yAxis, series
});
</script>
</body></html>
